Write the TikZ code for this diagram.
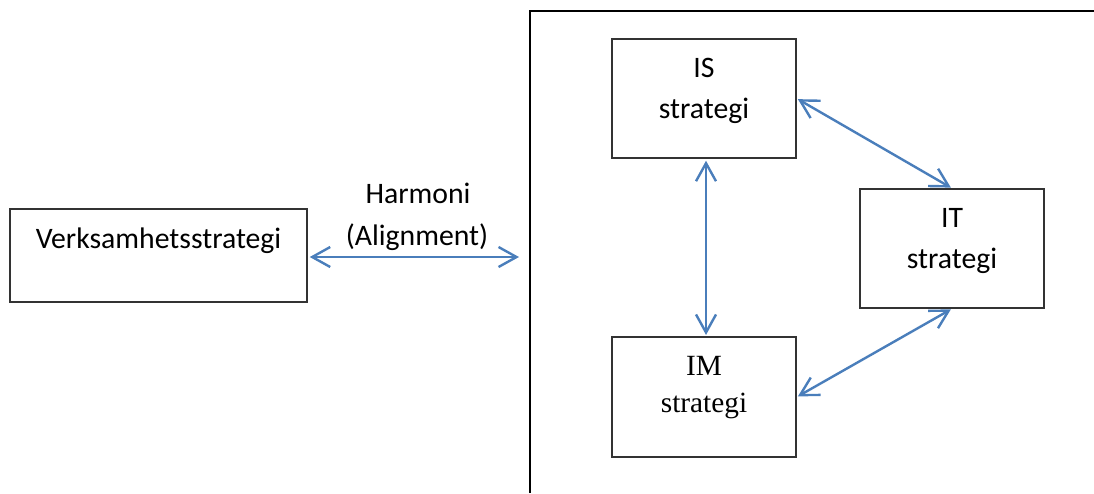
\documentclass[tikz,border=0pt]{standalone}
\usepackage{fontspec}
\setmainfont{Carlito}
\newfontfamily\timesfont{Liberation Serif}
\usetikzlibrary{arrows.meta,fit}
\definecolor{linkblue}{RGB}{74,126,187}
\definecolor{boxline}{RGB}{51,51,51}
\begin{document}
\begin{tikzpicture}[x=0.75pt,y=-0.75pt,
  box/.style={draw=boxline, line width=1.1pt, inner sep=0pt},
  word/.style={font=\fontsize{22.3}{30}\selectfont, inner sep=0pt, anchor=base},
  serifword/.style={font=\timesfont\fontsize{22}{30}\selectfont, inner sep=0pt, anchor=base},
  barb/.tip={Straight Barb[length=13.5pt,width=15pt]},
  link/.style={draw=linkblue, line width=1.8pt, barb-barb}
]
\useasboundingbox (0,0) rectangle (1094,493);

% frame round the three strategies, open at the right and at the bottom
\draw[line width=1.9pt] (530,493) -- (530,11) -- (1094,11);

% boxes
\node[box, fit={(10,209) (307,302)}] (verk) {};
\node[box, fit={(612,39) (796,158)}] (is) {};
\node[box, fit={(860,189) (1044,308)}] (it) {};
\node[box, fit={(612,337) (796,457)}] (im) {};

% box texts
\node[word] (verkT) at (158.5,248) {Verksamhetsstrategi};
\node[word] (isA) at (704,77) {IS};
\node[word] (isB) at (704,118) {strategi};
\node[word] (itA) at (952,227) {IT};
\node[word] (itB) at (952,268) {strategi};
\node[serifword] (imA) at (704,375) {IM};
\node[serifword] (imB) at (704,412) {strategi};

% alignment label
\node[word] (harmA) at (418,203) {Harmoni};
\node[word] (harmB) at (417,245) {(Alignment)};

% connectors
\coordinate (frameIn) at (519,257);
\draw[link, shorten <=1.5pt] (verk.east |- frameIn) -- (frameIn);
\draw[link, shorten <=1.5pt, shorten >=1pt] ([xshift=1.5pt]is.south) -- ([xshift=1.5pt]im.north);
\draw[link, shorten <=1pt, shorten >=1pt] (is.east) -- (it.north);
\draw[link, shorten <=1pt, shorten >=1pt] (im.east) -- (it.south);
\end{tikzpicture}
\end{document}
